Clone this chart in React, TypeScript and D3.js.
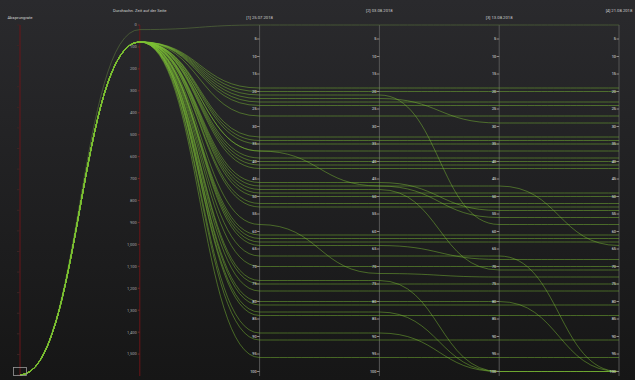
import React from "react";
import * as d3 from "d3";

const dimensions = [
  "Absprungrate",
  "Durchschn. Zeit auf der Seite",
  "[1] 25.07.2018",
  "[2] 03.08.2018",
  "[3] 13.08.2018",
  "[4] 21.08.2018",
];

// one entry per keyword row
const bounce = [0, 0, 0, 0, 0, 0, 0, 0, 0, 0, 0, 0, 0, 0, 0, 0, 0, 0, 0, 0, 0, 0, 0, 0, 0, 0, 0, 0, 0, 0, 0, 0, 0, 0, 0, 0, 0, 0, 0, 0, 0];
const avgTime = [21, 77, 77, 77, 77, 77, 77, 77, 77, 77, 77, 77, 77, 77, 77, 77, 77, 77, 77, 77, 77, 77, 77, 77, 77, 77, 77, 77, 77, 77, 77, 77, 77, 77, 77, 77, 77, 77, 77, 77, 77];
const pos1 = [1, 19, 20, 21, 22, 23, 24, 27, 33, 34, 35, 37, 37, 39, 40, 41, 42, 46, 47, 48, 49, 50, 52, 53, 58, 61, 62, 63, 64, 67, 70, 74, 75, 77, 80, 81, 83, 84, 89, 91, 96];
const pos2 = [1, 19, 20, 21, 22, 23, 24, 27, 33, 34, 35, 37, 47, 39, 40, 41, 42, 46, 47, 48, 49, 50, 52, 53, 72, 61, 62, 63, 64, 67, 70, 74, 75, 77, 80, 81, 83, 84, 89, 91, 96];
const pos3 = [1, 19, 20, 58, 29, 23, 24, 27, 33, 34, 35, 37, 47, 39, 40, 41, 42, 54, 56, 71, 49, 50, 52, 53, 73, 61, 62, 63, 68, 67, 70, 100, 75, 77, 80, 81, 100, 84, 100, 91, 96];
const pos4 = [1, 19, 20, 58, 29, 23, 24, 27, 33, 34, 35, 37, 64, 39, 40, 41, 42, 54, 56, 71, 49, 50, 52, 53, 73, 61, 62, 63, 68, 100, 70, 100, 75, 77, 100, 81, 100, 84, 100, 91, 96];

const positionTicks = [5, 10, 15, 20, 25, 30, 35, 40, 45, 50, 55, 60, 65, 70, 75, 80, 85, 90, 95, 100];
const timeTicks = [0, 100, 200, 300, 400, 500, 600, 700, 800, 900, 1000, 1100, 1200, 1300, 1400, 1500];
const bounceTicks = [0, 0.05, 0.1, 0.15, 0.2, 0.25, 0.3, 0.35, 0.4, 0.45, 0.5, 0.55, 0.6, 0.65, 0.7, 0.75, 0.8, 0.85];

const W = 635;
const H = 380;

export default function App() {
  const x = d3.scalePoint<string>().domain(dimensions).range([20, 619]);
  const yBounce = d3.scaleLinear().domain([0, 0.85]).range([375, 25]);
  const yTime = d3.scaleLinear().domain([0, 1600]).range([25, 376]);
  const yPos = d3.scaleLinear().domain([1, 100]).range([25, 371.5]);

  const rows = pos1.map((_, i) => [bounce[i], avgTime[i], pos1[i], pos2[i], pos3[i], pos4[i]]);
  const yFor = (k: number, v: number) => (k === 0 ? yBounce(v) : k === 1 ? yTime(v) : yPos(v));

  const line = d3
    .line<[number, number]>()
    .x((d) => d[0])
    .y((d) => d[1])
    .curve(d3.curveBumpX);

  const font = "Roboto, 'DejaVu Sans', sans-serif";

  return (
    <svg width={W} height={H} style={{ position: "fixed", left: 0, top: 0 }}>
      <defs>
        <linearGradient id="bg" x1="0" y1="0" x2="0" y2="1">
          <stop offset="0" stopColor="#2a2a2d" />
          <stop offset="1" stopColor="#161616" />
        </linearGradient>
      </defs>
      <rect x={0} y={0} width={W} height={H} fill="url(#bg)" />

      {/* axis lines */}
      {dimensions.map((d, k) => (
        <line
          key={d}
          x1={x(d)}
          x2={x(d)}
          y1={25}
          y2={376}
          stroke={k < 2 ? "#6b1518" : "#555555"}
          strokeWidth={1}
        />
      ))}

      {/* data lines */}
      <g fill="none">
        {rows.map((r, i) => {
          const pts = r.map((v, k) => [x(dimensions[k]) as number, yFor(k, v)] as [number, number]);
          return (
            <path
              key={i}
              d={line(pts) || ""}
              stroke={i === 0 ? "#56703a" : "#7cc035"}
              strokeOpacity={i === 0 ? 0.8 : 0.6}
              strokeWidth={0.8}
            />
          );
        })}
      </g>

      {/* bounce axis ticks */}
      {bounceTicks.map((t) => (
        <line key={t} x1={(x(dimensions[0]) as number) - 3} x2={x(dimensions[0])} y1={yBounce(t)} y2={yBounce(t)} stroke="#3e2424" />
      ))}

      {/* time axis ticks */}
      {timeTicks.map((t) => (
        <g key={t}>
          <line x1={(x(dimensions[1]) as number) - 2} x2={x(dimensions[1])} y1={yTime(t)} y2={yTime(t)} stroke="#6b2a2a" />
          <text x={(x(dimensions[1]) as number) - 3} y={yTime(t)} dy="0.35em" textAnchor="end" fontSize={4} fill="#a8a8a8" fontFamily={font}>
            {d3.format(",")(t)}
          </text>
        </g>
      ))}

      {/* position axis ticks */}
      {dimensions.slice(2).map((d) => (
        <g key={d}>
          {positionTicks.map((t) => (
            <g key={t}>
              <line x1={(x(d) as number) - 2.5} x2={x(d)} y1={yPos(t)} y2={yPos(t)} stroke="#888" />
              <text x={(x(d) as number) - 3} y={yPos(t)} dy="0.35em" textAnchor="end" fontSize={3.8} fill="#e8e8e8" fontFamily={font}>
                {t}
              </text>
            </g>
          ))}
        </g>
      ))}

      {/* axis titles */}
      {dimensions.map((d, k) => (
        <text key={d} x={x(d)} y={k % 2 === 0 ? 19 : 12} textAnchor="middle" fontSize={4.2} fill="#cfcfcf" fontFamily={font}>
          {d}
        </text>
      ))}

      {/* brush rectangle */}
      <rect x={13.5} y={367.5} width={13} height={8} fill="none" stroke="#9a9a9a" strokeWidth={0.8} />
    </svg>
  );
}
